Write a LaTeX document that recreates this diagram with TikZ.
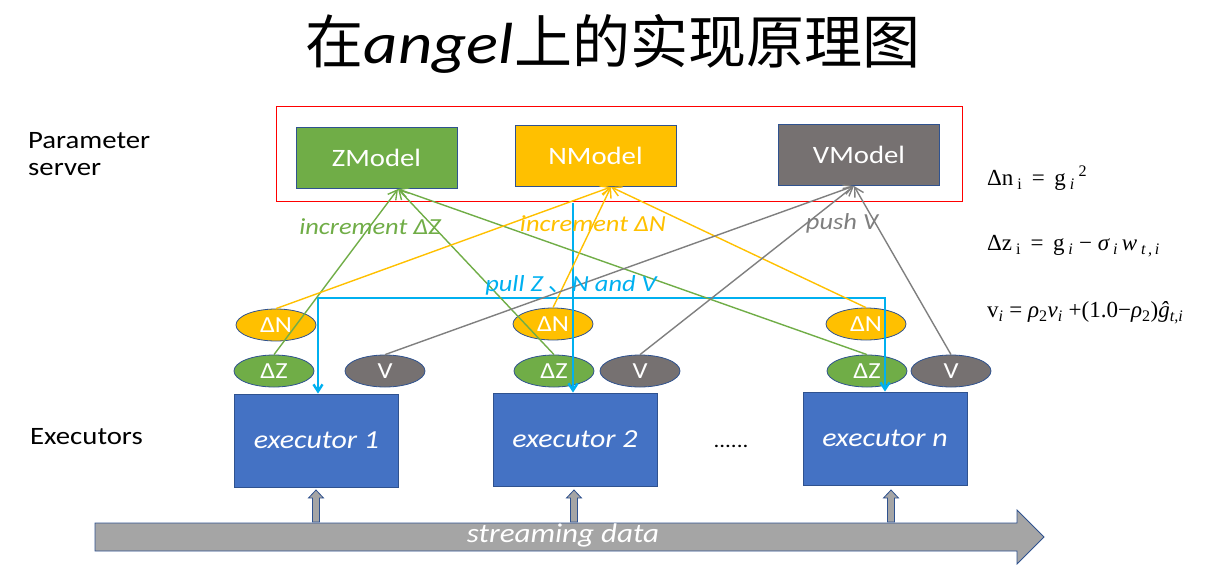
\documentclass[tikz,border=0pt]{standalone}
\usepackage{fontspec}
\setmainfont[FakeStretch=1.15]{Carlito}
\newfontfamily\cjk{Noto Sans CJK SC}
\newfontfamily\tms{Liberation Serif}
\usetikzlibrary{arrows.meta,shapes.geometric,calc}
\definecolor{zgreen}{HTML}{70AD47}
\definecolor{ngold}{HTML}{FFC000}
\definecolor{vgray}{HTML}{767171}
\definecolor{exblue}{HTML}{4472C4}
\definecolor{edgeblue}{HTML}{2F528F}
\definecolor{pullcyan}{HTML}{00B0F0}
\definecolor{datagray}{HTML}{A5A5A5}
\definecolor{arrgray}{HTML}{7F7F7F}
\newcommand{\sub}[1]{\textsubscript{#1}}
\newcommand{\supr}[1]{\textsuperscript{#1}}
\tikzset{
  model/.style={draw=edgeblue, line width=0.8pt, minimum width=161, minimum height=61, inner sep=0, text=white, font=\fontsize{25}{27}\selectfont},
  ell/.style={ellipse, draw=edgeblue, line width=0.8pt, minimum width=80, minimum height=32, inner sep=0, text=white, font=\fontsize{23}{25}\selectfont},
  exec/.style={draw=edgeblue, line width=0.8pt, fill=exblue, minimum width=164, minimum height=93, inner sep=0, text=white, font=\fontsize{26}{28}\selectfont\itshape},
  barb/.style={-{Straight Barb[length=9pt,width=10pt]}, line width=1.4pt},
  gline/.style={barb, draw=zgreen},
  nline/.style={barb, draw=ngold},
  vline/.style={barb, draw=arrgray},
  pull/.style={draw=pullcyan, line width=2.4pt, {Straight Barb[length=7pt,width=9pt]}-{Straight Barb[length=7pt,width=9pt]}},
  lbl/.style={font=\fontsize{23}{25}\selectfont\itshape, inner sep=0},
  side/.style={font=\fontsize{25}{29}\selectfont, text=black, align=left, anchor=west, inner sep=0},
  blk/.style={draw=edgeblue, line width=0.8pt, fill=datagray},
  formula/.style={anchor=west, inner sep=0, font=\fontsize{23}{26}\selectfont\tms}
}
\begin{document}
\begin{tikzpicture}[x=1pt,y=-1pt]
\useasboundingbox (0,0) rectangle (1205,573);
% title
\node[inner sep=0] (title) at (613,44) {\fontsize{58}{62}\selectfont\cjk 在\rmfamily\itshape angel\cjk\upshape 上的实现原理图};
% parameter server box
\node[draw=red, line width=1pt, minimum width=686, minimum height=95, inner sep=0] (ps) at (619,153.5) {};
\node[model, fill=zgreen] (Z) at (376.5,157.5) {ZModel};
\node[model, fill=ngold] (N) at (595.5,155.5) {NModel};
\node[model, fill=vgray] (V) at (859,154.5) {VModel};
\node[side] (pslbl) at (28,154) {Parameter\\[-2pt]server};
\node[side] (exlbl) at (30,437) {Executors};
% ellipses
\node[ell, fill=ngold] (n1) at (276,325) {ΔN};
\node[ell, fill=zgreen] (z1) at (274,371) {ΔZ};
\node[ell, fill=vgray] (v1) at (385,371) {V};
\node[ell, fill=ngold] (n2) at (553,324) {ΔN};
\node[ell, fill=zgreen] (z2) at (554,371) {ΔZ};
\node[ell, fill=vgray] (v2) at (640,371) {V};
\node[ell, fill=ngold] (n3) at (866,324) {ΔN};
\node[ell, fill=zgreen] (z3) at (867,371) {ΔZ};
\node[ell, fill=vgray] (v3) at (951,371) {V};
% executors
\node[exec] (e1) at (316.5,440.5) {executor 1};
\node[exec] (e2) at (575,439.5) {executor 2};
\node[exec] (en) at (885,438.5) {executor n};
\node[inner sep=0, font=\fontsize{20}{22}\selectfont] (dots) at (731,446) {......};
% streaming data arrow
\path[blk] (95,523) -- (1017,523) -- (1017,510) -- (1044,537) -- (1017,564) -- (1017,551) -- (95,551) -- cycle;
\node[lbl, text=white, font=\fontsize{27}{29}\selectfont\itshape] (sd) at (563,535) {streaming data};
\foreach \xx in {316,574,891}{
  \path[blk] (\xx-3.5,522) -- (\xx-3.5,498) -- (\xx-7.5,498) -- (\xx,490) -- (\xx+7.5,498) -- (\xx+3.5,498) -- (\xx+3.5,522) -- cycle;
}
% pull lines
\coordinate (psrc) at (573,203);
\coordinate (jl) at (318,298);
\coordinate (jr) at (885,298);
\draw[pull, {}-{Straight Barb[length=7pt,width=9pt]}] (psrc) -- (psrc |- e2.north);
\draw[pull] (jl |- e1.north) -- (jl) -- (jr) -- (jr |- en.north);
% inputs
\coordinate (Zin) at (398,189);
\coordinate (Nin) at (611,187);
\coordinate (Vin) at (854,186);
\draw[gline] (z1.north) -- (Zin);
\draw[gline] (z2.north) -- (Zin);
\draw[gline] (z3.north) -- (Zin);
\draw[nline] (n1.north) -- (Nin);
\draw[nline] (n2.north) -- (Nin);
\draw[nline] (n3.north) -- (Nin);
\draw[vline] (v1.north) -- (Vin);
\draw[vline] (v2.north) -- (Vin);
\draw[vline] (v3.north) -- (Vin);
% labels
\node[lbl, text=zgreen] (lz) at (370,227) {increment ΔZ};
\node[lbl, text=ngold] (ln) at (593,224) {increment ΔN};
\node[lbl, text=arrgray] (lv) at (842,223) {push V};
\node[lbl, text=pullcyan] (lp) at (571,285) {pull Z {\cjk 、}N and V};
% formulas
\node[formula] (f1) at (987,178) {Δn\,\sub{i} \,=\, g\,\sub{\itshape i}\,\supr{2}};
\node[formula] (f2) at (987,246) {Δz\,\sub{i} \,=\, g\,\sub{\itshape i} − {\itshape σ}\,\sub{\itshape i}\,{\itshape w}\,\sub{\itshape t\,,\,i}};
\node[formula] (f3) at (987,313) {v\sub{\itshape i} = {\itshape ρ}\sub{2}{\itshape v}\sub{\itshape i} +(1.0−{\itshape ρ}\sub{2}){\itshape ĝ}\sub{\itshape t,i}};
\end{tikzpicture}
\end{document}
